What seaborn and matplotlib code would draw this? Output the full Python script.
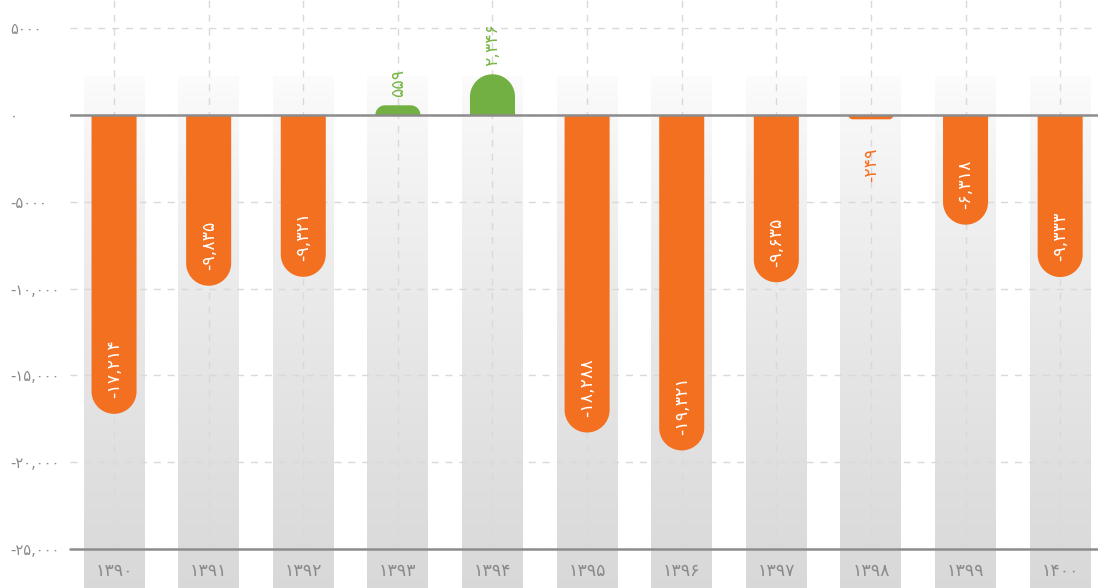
import numpy as np
import pandas as pd
import matplotlib
matplotlib.use("Agg")
import matplotlib.pyplot as plt
import seaborn as sns
from matplotlib.path import Path
from matplotlib.patches import PathPatch

# ---------------------------
# data
# ---------------------------
years = ["1390", "1391", "1392", "1393", "1394", "1395", "1396", "1397", "1398", "1399", "1400"]
values = [-17214, -9835, -9321, 559, 2346, -18288, -19321, -9635, -249, -6318, -9333]
y_ticks = [5000, 0, -5000, -10000, -15000, -20000, -25000]

ORANGE = "#f37021"
GREEN = "#72b043"
GREY_TXT = "#8a8a8a"

fa = str.maketrans("0123456789", "۰۱۲۳۴۵۶۷۸۹")

sns.set_style("white")
plt.rcParams["font.family"] = ["DejaVu Sans"]

df = pd.DataFrame({"year": [y.translate(fa) for y in years], "value": values})
colors = [ORANGE if v < 0 else GREEN for v in values]

fig, ax = plt.subplots(figsize=(10.98, 5.88), dpi=100)
fig.subplots_adjust(left=0.0638, right=1.0, bottom=0.0663, top=1.0)

sns.barplot(data=df, x="year", y="value", hue="year", palette=colors,
            width=0.476, saturation=1, legend=False, ax=ax, zorder=2)

# gradient background columns behind each category
grad_top = np.array([252, 252, 252]) / 255
grad_bot = np.array([216, 216, 217]) / 255
t = np.linspace(0, 1, 256)[:, None] ** 0.8
grad = (grad_top * (1 - t) + grad_bot * t)[:, None, :]
for i in range(len(years)):
    im = ax.imshow(grad, extent=(i - 0.322, i + 0.322, -27800, 2200),
                   aspect="auto", zorder=0, interpolation="bilinear")
    im.set_clip_on(False)

ax.set_xlim(-0.465, len(years) - 0.6)
ax.set_ylim(-25000, 6624)

# rounded bar ends (radius computed in pixels so corners stay round)
p0 = ax.transData.transform((0, 0))
p1 = ax.transData.transform((1, 1))
px_x = p1[0] - p0[0]
px_y = p1[1] - p0[1]
arc = np.linspace(0, np.pi / 2, 24)
for patch in list(ax.patches):
    x0, w, h = patch.get_x(), patch.get_width(), patch.get_height()
    s = np.sign(h)
    rc = min(w * px_x / 2, abs(h) * px_y)
    rx, ry = rc / px_x, rc / px_y
    x1 = x0 + w
    left = np.column_stack([x0 + rx - rx * np.cos(arc), h - s * ry + s * ry * np.sin(arc)])
    right = np.column_stack([x1 - rx + rx * np.sin(arc), h - s * ry + s * ry * np.cos(arc)])
    verts = np.vstack([[x0, 0], left, right, [x1, 0], [x0, 0]])
    ax.add_patch(PathPatch(Path(verts, closed=True), facecolor=patch.get_facecolor(),
                           edgecolor="none", zorder=2))
    patch.set_visible(False)

# value labels
for i, v in enumerate(values):
    txt = f"{v:,}".translate(fa)
    if v > 0:
        ax.text(i, v + 450, txt, rotation=90, ha="center", va="bottom",
                color="#7ab648", fontsize=12.5, zorder=4)
    elif v > -3000:
        ax.text(i, v - 1650, txt, rotation=90, ha="center", va="top",
                color=ORANGE, fontsize=12.5, zorder=4)
    else:
        ax.text(i, v + 900, txt, rotation=90, ha="center", va="bottom",
                color="white", fontsize=12.5, zorder=4)

# axes styling
ax.set_yticks(y_ticks)
ax.set_yticklabels([(f"{v:,}" if abs(v) >= 10000 else str(v)).translate(fa) for v in y_ticks])
for lab in ax.get_yticklabels():
    lab.set_horizontalalignment("left")
ax.tick_params(axis="y", length=0, pad=43, labelcolor=GREY_TXT, labelsize=10.5)
ax.tick_params(axis="x", length=0, pad=9, labelcolor=GREY_TXT, labelsize=12.5)
ax.set_xlabel("")
ax.set_ylabel("")

ax.set_axisbelow(True)
ax.grid(True, color="#d9d9d9", linestyle=(0, (5, 5)), linewidth=1)
for sp in ax.spines.values():
    sp.set_visible(False)

ax.axhline(0, color="#8c8c8c", lw=1.8, zorder=3)
ax.axhline(-25000, color="#8c8c8c", lw=1.8, zorder=3, clip_on=False)

fig.savefig("out.png", dpi=100)
